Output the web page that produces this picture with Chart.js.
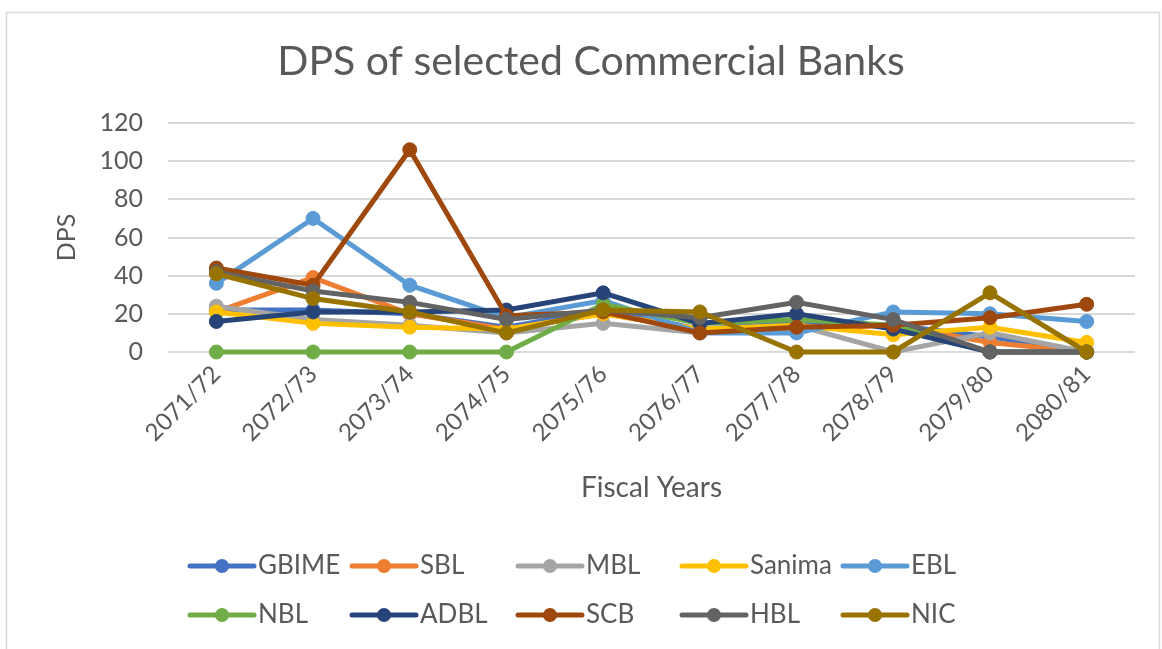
<!DOCTYPE html>
<html>
<head>
<meta charset="utf-8">
<script src="https://cdn.jsdelivr.net/npm/chart.js@4.4.1/dist/chart.umd.min.js"></script>
<style>
  html, body { margin: 0; padding: 0; background: #ffffff; }
  #wrap { position: absolute; left: 0; top: 0; width: 1162px; height: 649px; }
</style>
</head>
<body>
<div id="wrap"><canvas id="c" width="1162" height="649"></canvas></div>
<script>
const categories = ['2071/72','2072/73','2073/74','2074/75','2075/76','2076/77','2077/78','2078/79','2079/80','2080/81'];
const yTicks = [0, 20, 40, 60, 80, 100, 120];

const GBIME  = [22, 22, 20, 13, 22, 12, 15, 14, 8, 0];
const SBL    = [21, 39, 20, 12, 20, 12, 12, 14, 5, 0];
const MBL    = [24, 17, 14, 10, 15, 10, 14, 0, 10, 0];
const Sanima = [21, 15, 13, 12, 20, 12, 14, 9, 13, 5];
const EBL    = [36, 70, 35, 18, 27, 10, 10, 21, 20, 16];
const NBL    = [0, 0, 0, 0, 25, 15, 17, 14, 0, 0];
const ADBL   = [16, 21, 21, 22, 31, 15, 20, 12, 0, 0];
const SCB    = [44, 35, 106, 19, 21, 10, 13, 14, 18, 25];
const HBL    = [42, 32, 26, 17, 22, 18, 26, 17, 0, 0];
const NIC    = [41, 28, 21, 10, 22, 21, 0, 0, 31, 0];

const seriesNames  = ['GBIME','SBL','MBL','Sanima','EBL','NBL','ADBL','SCB','HBL','NIC'];
const seriesValues = [GBIME, SBL, MBL, Sanima, EBL, NBL, ADBL, SCB, HBL, NIC];
const seriesColors = ['#4472C4','#ED7D31','#A5A5A5','#FFC000','#5B9BD5','#70AD47','#264478','#9E480E','#636363','#997300'];

const TITLE = 'DPS of selected Commercial Banks';
const FONT = 'Lato, "Open Sans", "Noto Sans", sans-serif';
const TEXT = '#595959';

const datasets = seriesNames.map((name, i) => ({
  label: name,
  data: seriesValues[i],
  borderColor: seriesColors[i],
  backgroundColor: seriesColors[i],
  pointBackgroundColor: seriesColors[i],
  pointBorderColor: seriesColors[i],
  borderWidth: 5,
  pointRadius: 7,
  pointBorderWidth: 1,
  tension: 0,
  clip: false,
  order: seriesNames.length - i
}));

const frame = {
  id: 'frame',
  beforeDraw(chart) {
    const ctx = chart.ctx;
    ctx.save();
    ctx.fillStyle = '#ffffff';
    ctx.fillRect(0, 0, chart.width, chart.height);
    ctx.strokeStyle = '#d9d9d9';
    ctx.lineWidth = 1.5;
    ctx.strokeRect(6.5, 12.5, 1153, 700);
    ctx.fillStyle = TEXT;
    ctx.font = '41px ' + FONT;
    ctx.textAlign = 'center';
    ctx.textBaseline = 'middle';
    ctx.fillText(TITLE, 591, 62);
    ctx.restore();
  }
};

const legendCols = [188, 350, 516, 680, 841];
const legendRows = [566, 615];
const customLegend = {
  id: 'customLegend',
  afterDraw(chart) {
    const ctx = chart.ctx;
    ctx.save();
    chart.data.datasets.forEach((ds, i) => {
      const x = legendCols[i % 5];
      const y = legendRows[Math.floor(i / 5)];
      ctx.strokeStyle = ds.borderColor;
      ctx.lineWidth = 5;
      ctx.lineCap = 'round';
      ctx.beginPath();
      ctx.moveTo(x + 2, y);
      ctx.lineTo(x + 66, y);
      ctx.stroke();
      ctx.fillStyle = ds.borderColor;
      ctx.beginPath();
      ctx.arc(x + 34, y, 7, 0, Math.PI * 2);
      ctx.fill();
      ctx.fillStyle = TEXT;
      ctx.font = '26px ' + FONT;
      ctx.textBaseline = 'middle';
      ctx.textAlign = 'left';
      ctx.fillText(ds.label, x + 70, y);
    });
    ctx.restore();
  }
};

new Chart(document.getElementById('c'), {
  type: 'line',
  data: { labels: categories, datasets },
  plugins: [frame, customLegend],
  options: {
    responsive: false,
    animation: false,
    devicePixelRatio: 1,
    layout: { padding: { left: 6, right: 27, top: 123, bottom: 134 } },
    plugins: {
      legend: { display: false },
      tooltip: { enabled: false },
      title: { display: false }
    },
    scales: {
      x: {
        type: 'category',
        offset: true,
        grid: { display: false, drawTicks: false },
        border: { display: false },
        ticks: {
          color: TEXT,
          font: { family: FONT, size: 24 },
          minRotation: 45,
          maxRotation: 45,
          padding: 8,
          autoSkip: false
        },
        title: {
          display: true,
          text: 'Fiscal Years',
          color: TEXT,
          font: { family: FONT, size: 28 },
          padding: { top: 0, bottom: 10 }
        },
        afterFit(scale) { scale.height = 163; }
      },
      y: {
        min: 0,
        max: 120,
        afterBuildTicks(scale) { scale.ticks = yTicks.map(v => ({ value: v })); },
        grid: { color: '#d9d9d9', lineWidth: 2, drawTicks: false },
        border: { display: false },
        ticks: {
          color: TEXT,
          font: { family: FONT, size: 25 },
          padding: 25
        },
        title: {
          display: true,
          text: 'DPS',
          color: TEXT,
          font: { family: FONT, size: 25 },
          padding: { top: 46, bottom: 0 }
        },
        afterFit(scale) { scale.width = 162; }
      }
    }
  }
});
</script>
</body>
</html>
